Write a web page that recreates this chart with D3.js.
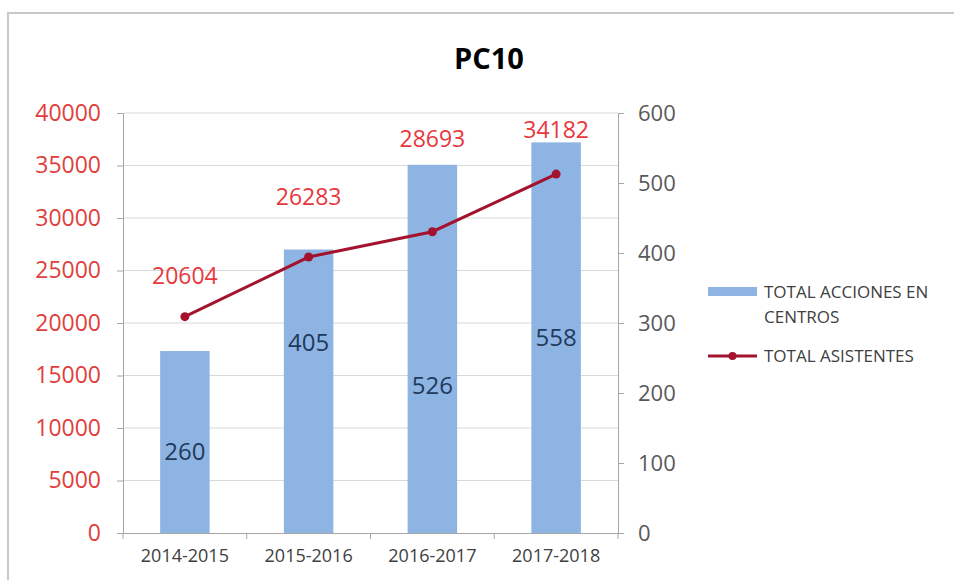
<!DOCTYPE html>
<html lang="es">
<head>
<meta charset="UTF-8">
<title>PC10</title>
<script src="https://d3js.org/d3.v7.min.js"></script>
<style>
    body { margin: 0; background: #fff; font-family: 'Open Sans', sans-serif; overflow: hidden; }
    svg text { font-family: 'Open Sans', sans-serif; }
</style>
</head>
<body>
<svg id="chart" width="954" height="580"></svg>
<script>
    // data
    const cursos = ["2014-2015", "2015-2016", "2016-2017", "2017-2018"];
    const acciones = [260, 405, 526, 558];          // bars, right axis
    const asistentes = [20604, 26283, 28693, 34182]; // line, left axis
    const leftTicks = [0, 5000, 10000, 15000, 20000, 25000, 30000, 35000, 40000];
    const rightTicks = [0, 100, 200, 300, 400, 500, 600];

    // label nudges (Excel had them dragged by hand)
    const lineLabelDy = [-41, -60, -93, -44];
    const barLabelDy = [10, -49, 37, 0];

    const svg = d3.select("#chart");
    const m = { left: 123, right: 618, top: 113, bottom: 533 };

    // frame
    svg.append("path")
        .attr("d", `M8,580 V13 H960`)
        .attr("fill", "none")
        .attr("stroke", "#c8c8c8")
        .attr("stroke-width", 2);

    const x = d3.scaleBand().domain(cursos).range([m.left, m.right]).paddingInner(0.6).paddingOuter(0.3);
    const yL = d3.scaleLinear().domain([0, 40000]).range([m.bottom, m.top]);
    const yR = d3.scaleLinear().domain([0, 600]).range([m.bottom, m.top]);
    const xc = d => x(d) + x.bandwidth() / 2;

    // title
    svg.append("text")
        .attr("x", 489).attr("y", 69)
        .attr("text-anchor", "middle")
        .attr("font-size", 29).attr("font-weight", "bold")
        .attr("fill", "#000")
        .text("PC10");

    // gridlines
    svg.append("g").selectAll("line").data(leftTicks.slice(1)).join("line")
        .attr("x1", m.left).attr("x2", m.right)
        .attr("y1", d => yL(d)).attr("y2", d => yL(d))
        .attr("stroke", "#d9d9d9").attr("stroke-width", 1);

    // bars
    svg.append("g").selectAll("rect").data(cursos).join("rect")
        .attr("x", d => x(d))
        .attr("width", x.bandwidth())
        .attr("y", (d, i) => yR(acciones[i]))
        .attr("height", (d, i) => m.bottom - yR(acciones[i]))
        .attr("fill", "#8eb4e3");

    // left axis
    const axL = svg.append("g")
        .attr("transform", `translate(${m.left},0)`)
        .call(d3.axisLeft(yL).tickValues(leftTicks).tickSize(6).tickPadding(16).tickFormat(d3.format("d")));
    axL.select(".domain").attr("stroke", "#a6a6a6");
    axL.selectAll(".tick line").attr("stroke", "#a6a6a6");
    axL.selectAll("text").attr("font-size", 23).attr("fill", "#e0403c").attr("font-family", "'Open Sans', sans-serif");

    // right axis
    const axR = svg.append("g")
        .attr("transform", `translate(${m.right},0)`)
        .call(d3.axisRight(yR).tickValues(rightTicks).tickSize(6).tickPadding(14));
    axR.select(".domain").attr("stroke", "#a6a6a6");
    axR.selectAll(".tick line").attr("stroke", "#a6a6a6");
    axR.selectAll("text").attr("font-size", 22).attr("fill", "#595959").attr("font-family", "'Open Sans', sans-serif");

    // bottom axis, ticks between categories
    const axB = svg.append("g")
        .attr("transform", `translate(0,${m.bottom})`)
        .call(d3.axisBottom(x).tickSize(0).tickPadding(16));
    axB.select(".domain").attr("stroke", "#a6a6a6");
    axB.selectAll("text").attr("font-size", 18).attr("fill", "#404040").attr("font-family", "'Open Sans', sans-serif");
    axB.selectAll(".sep").data(d3.range(cursos.length + 1)).join("line")
        .attr("class", "sep")
        .attr("x1", i => m.left + i * (m.right - m.left) / cursos.length)
        .attr("x2", i => m.left + i * (m.right - m.left) / cursos.length)
        .attr("y1", 0).attr("y2", 6)
        .attr("stroke", "#a6a6a6");

    // bar labels
    svg.append("g").selectAll("text").data(cursos).join("text")
        .attr("x", d => xc(d))
        .attr("y", (d, i) => (yR(acciones[i]) + m.bottom) / 2 + barLabelDy[i])
        .attr("dy", "0.35em")
        .attr("text-anchor", "middle")
        .attr("font-size", 24)
        .attr("fill", "#1f3a5c")
        .text((d, i) => acciones[i]);

    // line
    const line = d3.line().x((d, i) => xc(cursos[i])).y(d => yL(d));
    svg.append("path")
        .datum(asistentes)
        .attr("d", line)
        .attr("fill", "none")
        .attr("stroke", "#a3132e")
        .attr("stroke-width", 3);
    svg.append("g").selectAll("circle").data(asistentes).join("circle")
        .attr("cx", (d, i) => xc(cursos[i]))
        .attr("cy", d => yL(d))
        .attr("r", 4.5)
        .attr("fill", "#a3132e");

    // line labels
    svg.append("g").selectAll("text").data(asistentes).join("text")
        .attr("x", (d, i) => xc(cursos[i]))
        .attr("y", (d, i) => yL(d) + lineLabelDy[i])
        .attr("dy", "0.35em")
        .attr("text-anchor", "middle")
        .attr("font-size", 23)
        .attr("fill", "#e8383d")
        .text(d => d);

    // legend
    const lg = svg.append("g").attr("transform", "translate(708,0)");
    lg.append("rect").attr("x", 0).attr("y", 287).attr("width", 49).attr("height", 9).attr("fill", "#8eb4e3");
    lg.append("text").attr("x", 56).attr("y", 298).attr("font-size", 17).attr("fill", "#404040").text("TOTAL ACCIONES EN");
    lg.append("text").attr("x", 56).attr("y", 323).attr("font-size", 17).attr("fill", "#404040").text("CENTROS");
    lg.append("line").attr("x1", 0).attr("x2", 49).attr("y1", 356).attr("y2", 356)
        .attr("stroke", "#a3132e").attr("stroke-width", 3);
    lg.append("circle").attr("cx", 24.5).attr("cy", 356).attr("r", 4).attr("fill", "#a3132e");
    lg.append("text").attr("x", 56).attr("y", 362).attr("font-size", 17).attr("fill", "#404040").text("TOTAL ASISTENTES");
</script>
</body>
</html>
